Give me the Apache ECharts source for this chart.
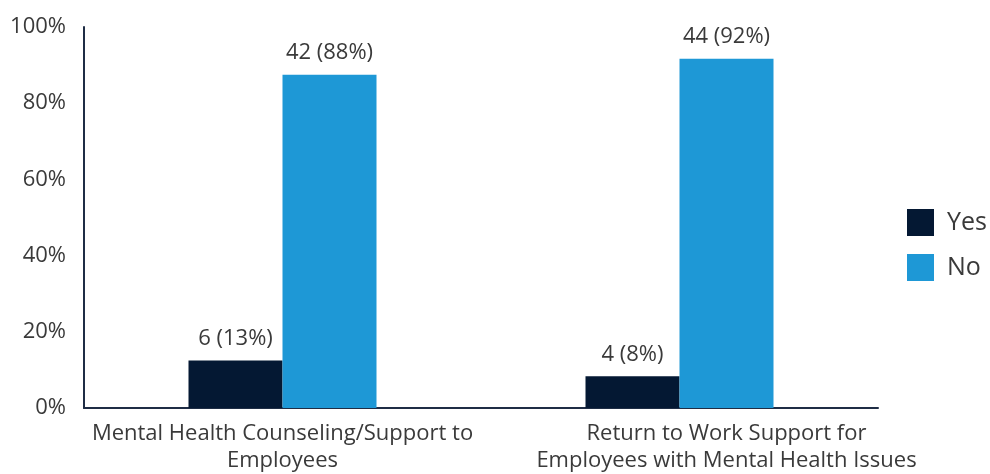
<!DOCTYPE html>
<html>
<head>
<meta charset="utf-8">
<script src="https://cdn.jsdelivr.net/npm/echarts@6/dist/echarts.min.js"></script>
<style>html,body{margin:0;padding:0;background:#fff}#c{width:990px;height:474px}</style>
</head>
<body>
<div id="c"></div>
<script>
var categories = ["Mental Health Counseling/Support to\nEmployees", "Return to Work Support for\nEmployees with Mental Health Issues"];
var yesPct = [12.5, 8.33];
var noPct = [87.5, 91.67];
var yesCount = [6, 4];
var noCount = [42, 44];
var yesLabels = ["6 (13%)", "4 (8%)"];
var noLabels = ["42 (88%)", "44 (92%)"];
var yTicks = [0, 20, 40, 60, 80, 100];

var font = "'Open Sans', sans-serif";
var txt = '#3a3a3a';
var chart = echarts.init(document.getElementById('c'));
chart.setOption({
  animation: false,
  textStyle: {fontFamily: font},
  grid: {left: 84, right: 112, top: 27, bottom: 64, containLabel: false},
  legend: {
    orient: 'vertical', left: 902, top: 204,
    itemWidth: 27, itemHeight: 27, itemGap: 18,
    icon: 'rect',
    textStyle: {fontSize: 25, color: txt, fontFamily: font, padding: [0, 0, 0, 8]},
    data: ['Yes', 'No']
  },
  xAxis: {
    type: 'category', data: categories,
    axisLine: {lineStyle: {color: '#1f2d45', width: 2}},
    axisTick: {show: false},
    axisLabel: {interval: 0, fontSize: 22, color: txt, lineHeight: 27, margin: 12, fontFamily: font,
      formatter: function(v, i){
        var lines = v.split('\n');
        var st = i === 1 ? 'b' : 'a';
        return lines.map(function(l){ return '{' + st + '|' + l + '}'; }).join('\n');
      },
      rich: {
        a: {fontSize: 22, color: txt, lineHeight: 27, fontFamily: font},
        b: {fontSize: 22, color: txt, lineHeight: 27, fontFamily: font, padding: [0, 0, 0, 94]}
      }
    }
  },
  yAxis: {
    type: 'value', min: 0, max: 100, interval: 20,
    axisLine: {show: true, lineStyle: {color: '#1f2d45', width: 2}},
    axisTick: {show: false},
    splitLine: {show: false},
    axisLabel: {fontSize: 22, color: txt, margin: 18, fontFamily: font,
      formatter: function(v){ return yTicks.indexOf(v) >= 0 ? v + '%' : ''; }}
  },
  series: [
    {name: 'Yes', type: 'bar', data: yesPct, barWidth: 94, barGap: '0%',
     itemStyle: {color: '#041833'},
     label: {show: true, position: 'top', distance: 11, fontSize: 22, color: txt, fontFamily: font,
       formatter: function(p){ return yesLabels[p.dataIndex]; }}},
    {name: 'No', type: 'bar', data: noPct, barWidth: 94,
     itemStyle: {color: '#1e98d6'},
     label: {show: true, position: 'top', distance: 11, fontSize: 22, color: txt, fontFamily: font,
       formatter: function(p){ return noLabels[p.dataIndex]; }}}
  ]
});
</script>
</body>
</html>
